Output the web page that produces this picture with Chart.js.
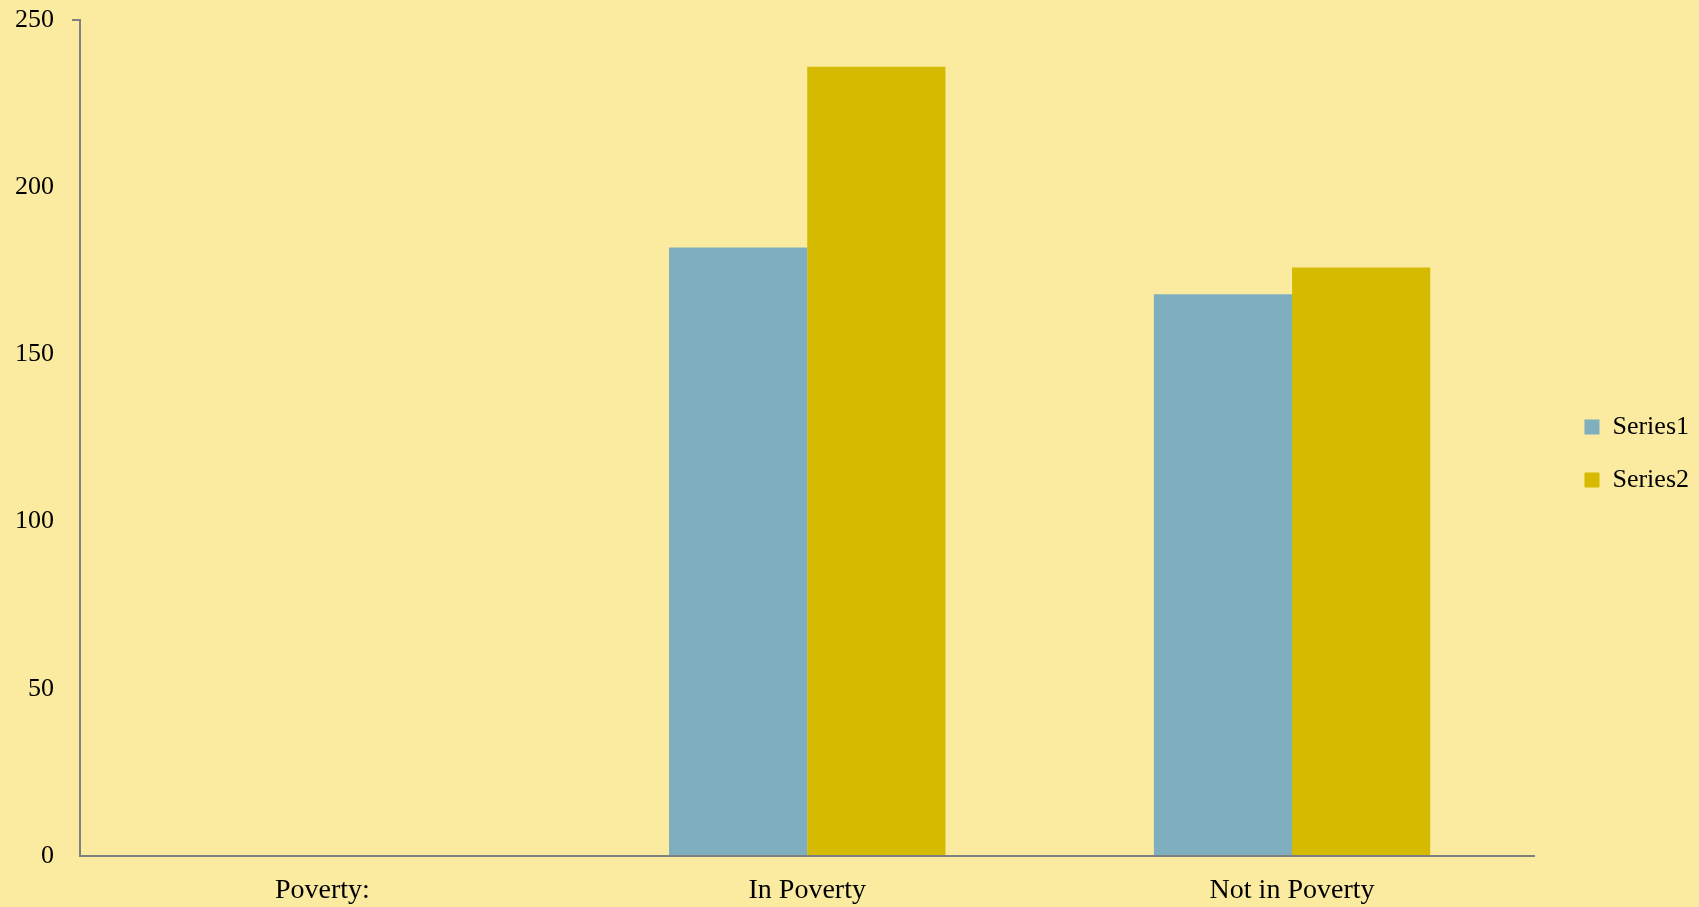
<!doctype html>
<html lang="en">
<head>
    <meta charset="utf-8">
    <title>Poverty</title>
    <style>
        html, body {
            margin: 0;
            padding: 0;
            background-color: #faeba0;
        }

        .chart-box {
            width: 1699px;
            height: 907px;
        }
    </style>
</head>
<body>
    <div class="chart-box">
        <canvas id="povertyChart"></canvas>
    </div>
    <script src="https://cdn.jsdelivr.net/npm/chart.js"></script>
    <script>
        // data
        const categories = ['Poverty:', 'In Poverty', 'Not in Poverty'];
        const series1 = [null, 182, 168];
        const series2 = [null, 236, 176];
        const yTicks = [0, 50, 100, 150, 200, 250];

        const axisGrey = '#808080';
        const serif = "'Liberation Serif', 'DejaVu Serif', serif";

        new Chart(document.getElementById('povertyChart'), {
            type: 'bar',
            data: {
                labels: categories,
                datasets: [{
                    label: 'Series1',
                    data: series1,
                    backgroundColor: '#7fafbf'
                }, {
                    label: 'Series2',
                    data: series2,
                    backgroundColor: '#d6ba00'
                }]
            },
            options: {
                responsive: true,
                maintainAspectRatio: false,
                animation: false,
                layout: {
                    padding: 0
                },
                datasets: {
                    bar: {
                        categoryPercentage: 0.57,
                        barPercentage: 1
                    }
                },
                plugins: {
                    tooltip: { enabled: false },
                    legend: {
                        position: 'right',
                        labels: {
                            color: '#000',
                            boxWidth: 15,
                            boxHeight: 15,
                            padding: 27,
                            font: { family: serif, size: 26 }
                        }
                    }
                },
                scales: {
                    x: {
                        border: { color: axisGrey, width: 2 },
                        grid: { display: false, drawTicks: false },
                        afterFit: (axis) => { axis.height = 51; },
                        ticks: {
                            color: '#000',
                            padding: 18,
                            font: { family: serif, size: 28 }
                        }
                    },
                    y: {
                        min: yTicks[0],
                        max: yTicks[yTicks.length - 1],
                        border: { color: axisGrey, width: 2 },
                        afterBuildTicks: (axis) => {
                            axis.ticks = yTicks.map((v) => ({ value: v }));
                        },
                        afterFit: (axis) => {
                            axis.width = 80;
                            axis.paddingTop = 20;
                            axis.paddingBottom = 0;
                        },
                        grid: {
                            drawOnChartArea: false,
                            tickLength: 8,
                            lineWidth: 2,
                            color: (ctx) => ctx.tick && ctx.tick.value === 250 ? axisGrey : 'rgba(0,0,0,0)'
                        },
                        ticks: {
                            color: '#000',
                            padding: 18,
                            font: { family: serif, size: 26 }
                        }
                    },
                    // empty axis that only keeps a gap between the bars and the legend
                    gap: {
                        type: 'linear',
                        position: 'right',
                        grid: { display: false },
                        border: { display: false },
                        ticks: { display: false },
                        afterFit: (axis) => {
                            axis.width = 23;
                            axis.paddingTop = 0;
                            axis.paddingBottom = 0;
                        }
                    }
                }
            }
        });
    </script>
</body>
</html>
